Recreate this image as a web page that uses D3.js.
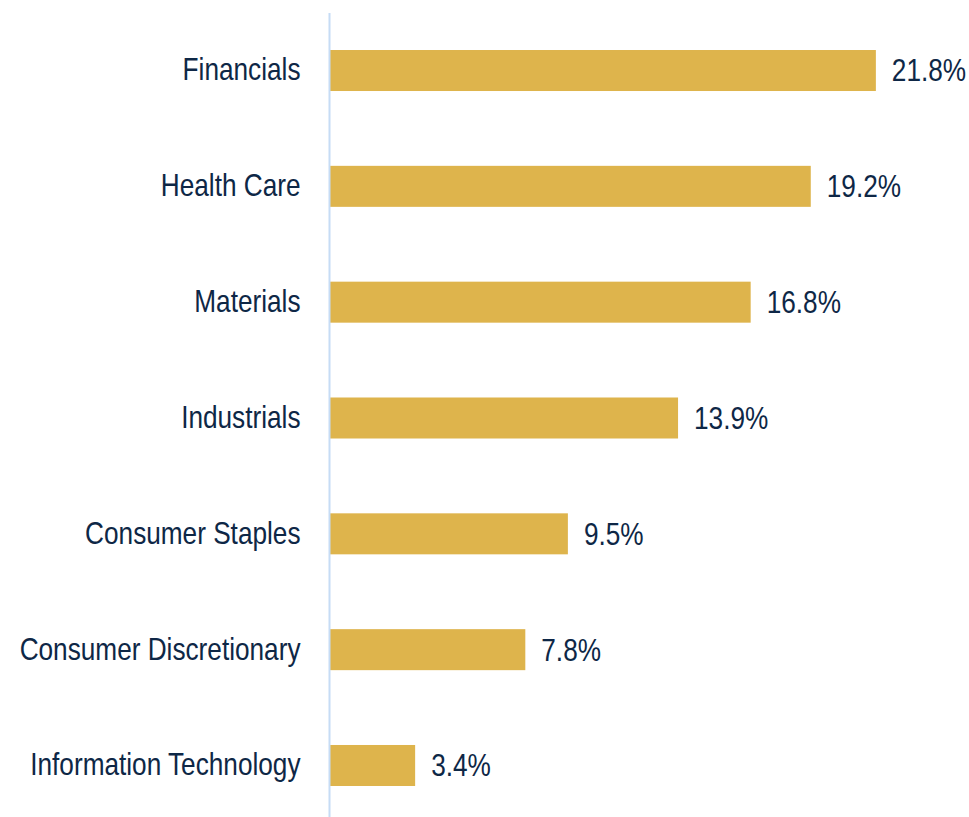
<!DOCTYPE html>
<html>
<head>
<meta charset="utf-8">
<script src="https://cdn.jsdelivr.net/npm/d3@7"></script>
<style>
  body { margin: 0; background: #fff; }
  svg { display: block; }
</style>
</head>
<body>
<svg></svg>
<script>
const width = 969;
const height = 817;

const sectors = [
  "Financials",
  "Health Care",
  "Materials",
  "Industrials",
  "Consumer Staples",
  "Consumer Discretionary",
  "Information Technology"
];
const weights = [21.8, 19.2, 16.8, 13.9, 9.5, 7.8, 3.4];

const barColor = "#DEB44C";
const textColor = "#0E2746";
const fontFamily = "'Liberation Sans', Arial, sans-serif";
const squeeze = 0.845; // narrow face is not installed, so condense the regular one

const svg = d3.select("svg").attr("width", width).attr("height", height);

const xScale = d3.scaleLinear().domain([0, 25]).range([330, 956]);

const yScale = d3
  .scaleBand()
  .domain(sectors)
  .range([12.6, 823.4])
  .paddingInner(0.646)
  .paddingOuter(0.323);

const data = sectors.map((s, i) => ({ sector: s, value: weights[i] }));

// bars
svg
  .selectAll("rect.bar")
  .data(data)
  .enter()
  .append("rect")
  .attr("class", "bar")
  .attr("x", xScale(0))
  .attr("y", (d) => yScale(d.sector))
  .attr("width", (d) => xScale(d.value) - xScale(0))
  .attr("height", yScale.bandwidth())
  .attr("fill", barColor);

// category axis
const yAxis = d3.axisLeft(yScale).tickSize(0).tickPadding(29);
const gy = svg
  .append("g")
  .attr("transform", "translate(329.5, 0)")
  .call(yAxis);

gy.select(".domain")
  .attr("stroke", "#C6DCF5")
  .attr("stroke-width", 2)
  .attr("d", "M0,13V817");

gy.selectAll("text")
  .attr("x", -29 / squeeze)
  .attr("transform", `scale(${squeeze},1)`)
  .attr("fill", textColor)
  .style("font-family", fontFamily)
  .style("font-size", "31px");

// value labels
svg
  .selectAll("g.value")
  .data(data)
  .enter()
  .append("g")
  .attr("class", "value")
  .attr(
    "transform",
    (d) =>
      `translate(${xScale(d.value) + 16}, ${
        yScale(d.sector) + yScale.bandwidth() / 2
      }) scale(${squeeze},1)`
  )
  .append("text")
  .attr("dy", "0.35em")
  .attr("fill", textColor)
  .style("font-family", fontFamily)
  .style("font-size", "31px")
  .text((d) => d.value.toFixed(1) + "%");
</script>
</body>
</html>
